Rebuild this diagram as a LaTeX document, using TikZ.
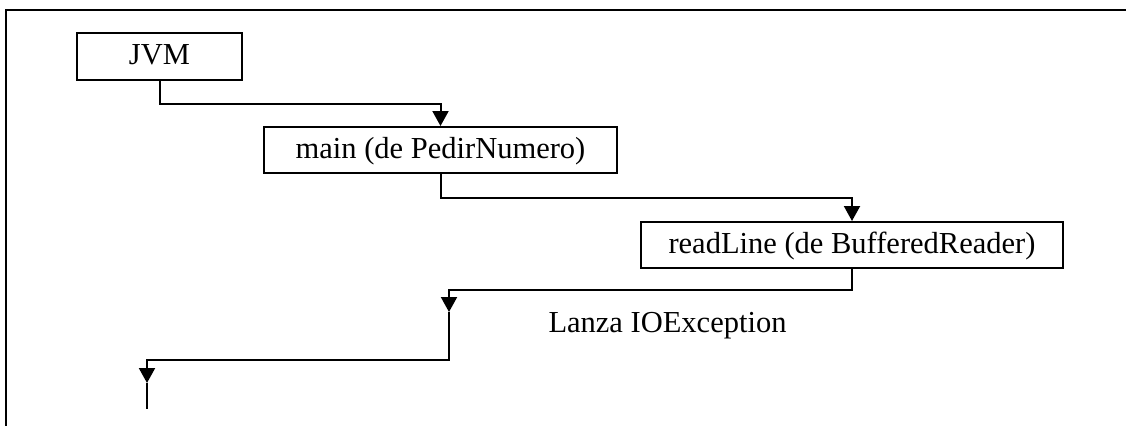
\documentclass[tikz,border=0pt]{standalone}
\usepackage{fontspec}
\setmainfont{Liberation Serif}
\usetikzlibrary{arrows.meta}
\begin{document}
\begin{tikzpicture}[x=0.5pt,y=-0.5pt,
  labelfont/.style={font=\fontsize{15.25}{18}\selectfont},
  callbox/.style={draw, line width=1pt, rectangle, inner sep=0pt,
    minimum height=23pt, text height=11pt, text depth=2.6pt, labelfont},
  flow/.style={line width=1pt},
  tip/.style={-{Triangle[width=8pt,length=7.5pt]}}]
  \useasboundingbox (0,0) rectangle (1126,425);

  % outer frame (top and left edges)
  \draw[line width=1.1pt] (6,430) -- (6,10) -- (1130,10);

  % call chain
  \node[callbox, minimum width=82.5pt, minimum height=23.5pt] (jvm) at (159.5,56.5) {JVM};
  \node[callbox, minimum width=176.5pt] (main) at (440.5,150) {main (de PedirNumero)};
  \node[callbox, minimum width=211pt] (read) at (852,245) {readLine (de BufferedReader)};
  \node[labelfont, anchor=base] (lanza) at (667.5,332) {Lanza IOException};

  % calls going down
  \draw[flow,tip] (jvm.south) -- ++(0,23) -| (main.north);
  \draw[flow,tip] (main.south) -- ++(0,24) -| (read.north);

  % exception propagating back
  \coordinate (r1) at (449,290);
  \coordinate (t1) at (449,312);
  \coordinate (b1) at (449,360);
  \coordinate (t2) at (147,383);
  \coordinate (tail) at (147,409);
  \draw[flow,tip] (read.south) |- (r1) -- (t1);
  \draw[flow,tip] (t1) -- (b1) -| (t2);
  \draw[flow] (t2) -- (tail);
\end{tikzpicture}
\end{document}
